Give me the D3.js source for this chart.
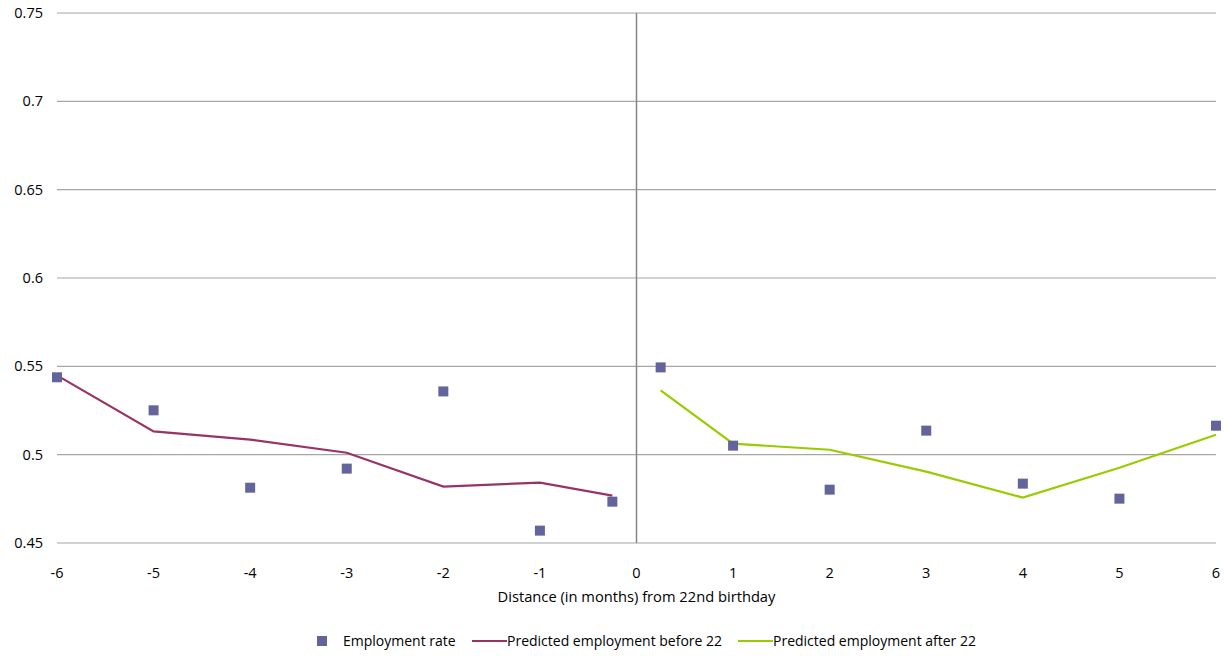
<!DOCTYPE html>
<html>
<head>
<meta charset="utf-8">
<script src="https://cdn.jsdelivr.net/npm/d3@7"></script>
<style>
  body { margin: 0; background: #fff; }
  svg text { font-family: "Open Sans", "DejaVu Sans", sans-serif; fill: #000; }
</style>
</head>
<body>
<script>
// data
let rateX = [-6, -5, -4, -3, -2, -1, -0.25, 0.25, 1, 2, 3, 4, 5, 6];
let rateY = [0.5438, 0.5251, 0.4813, 0.4921, 0.5358, 0.457, 0.4734, 0.5494, 0.5051, 0.4802, 0.5136, 0.4836, 0.4751, 0.5164];

let beforeX = [-6, -5, -4, -3, -2, -1, -0.25];
let beforeY = [0.5449, 0.5132, 0.5085, 0.5011, 0.4819, 0.4842, 0.4768];

let afterX = [0.25, 1, 2, 3, 4, 5, 6];
let afterY = [0.5364, 0.5062, 0.5028, 0.4904, 0.4757, 0.4926, 0.5113];

let xTicks = [-6, -5, -4, -3, -2, -1, 0, 1, 2, 3, 4, 5, 6];
let yTicks = [0.45, 0.5, 0.55, 0.6, 0.65, 0.7, 0.75];

let margin = {top: 13, right: 11, bottom: 113, left: 57},
    width = 1227 - margin.left - margin.right,
    height = 656 - margin.top - margin.bottom;

let svg = d3.select('body').append('svg')
    .attr('width', 1227)
    .attr('height', 656);

let g = svg.append('g')
    .attr('transform', 'translate(' + margin.left + ',' + margin.top + ')');

let x = d3.scaleLinear().domain([-6, 6]).range([0, width]);
let y = d3.scaleLinear().domain([0.45, 0.75]).range([height, 0]);

// horizontal gridlines
g.selectAll('.grid').data(yTicks).enter().append('line')
    .attr('x1', 0).attr('x2', width)
    .attr('y1', d => y(d)).attr('y2', d => y(d))
    .style('stroke', '#a6a6a6').style('stroke-width', 1.2);

// y labels
g.selectAll('.ylab').data(yTicks).enter().append('text')
    .attr('x', -14).attr('y', d => y(d) + 5)
    .attr('text-anchor', 'end')
    .style('font-size', '14.5px')
    .text(d => +d.toFixed(2));

// vertical axis at 0
g.append('line')
    .attr('x1', x(0)).attr('x2', x(0))
    .attr('y1', 0).attr('y2', height)
    .style('stroke', '#868686').style('stroke-width', 1.5);

// x labels
g.selectAll('.xlab').data(xTicks).enter().append('text')
    .attr('x', d => x(d)).attr('y', height + 35)
    .attr('text-anchor', 'middle')
    .style('font-size', '14.5px')
    .text(d => d);

g.append('text')
    .attr('x', x(0)).attr('y', height + 59)
    .attr('text-anchor', 'middle')
    .style('font-size', '14.7px')
    .text('Distance (in months) from 22nd birthday');

let line = d3.line().x(d => x(d[0])).y(d => y(d[1]));

g.append('path')
    .datum(d3.zip(beforeX, beforeY))
    .attr('d', line)
    .style('fill', 'none').style('stroke', '#993366').style('stroke-width', 2.2);

g.append('path')
    .datum(d3.zip(afterX, afterY))
    .attr('d', line)
    .style('fill', 'none').style('stroke', '#99cc00').style('stroke-width', 2.2);

let s = 10;
g.selectAll('.pt').data(d3.zip(rateX, rateY)).enter().append('rect')
    .attr('x', d => x(d[0]) - s / 2).attr('y', d => y(d[1]) - s / 2)
    .attr('width', s).attr('height', s)
    .style('fill', '#64649c');

// legend
let leg = svg.append('g').attr('transform', 'translate(0,641)');
leg.append('rect').attr('x', 317).attr('y', -5).attr('width', 10).attr('height', 10).style('fill', '#64649c');
leg.append('text').attr('x', 343).attr('y', 5).style('font-size', '14px').text('Employment rate');
leg.append('line').attr('x1', 472).attr('x2', 507).attr('y1', 0).attr('y2', 0)
    .style('stroke', '#993366').style('stroke-width', 2.2);
leg.append('text').attr('x', 507).attr('y', 5).style('font-size', '14px').text('Predicted employment before 22');
leg.append('line').attr('x1', 738).attr('x2', 773).attr('y1', 0).attr('y2', 0)
    .style('stroke', '#99cc00').style('stroke-width', 2.2);
leg.append('text').attr('x', 773).attr('y', 5).style('font-size', '14px').text('Predicted employment after 22');
</script>
</body>
</html>
